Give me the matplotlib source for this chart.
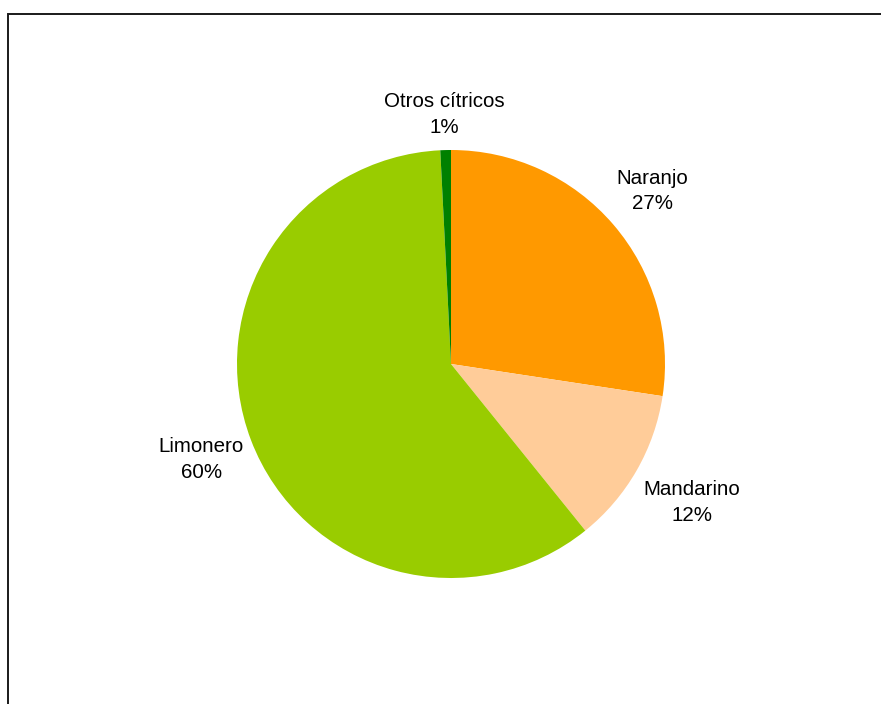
import numpy as np
import matplotlib.pyplot as plt
from matplotlib.patches import Rectangle

plt.rcParams['font.family'] = ['Liberation Sans', 'DejaVu Sans']

# datos del gráfico (sentido horario desde arriba)
categorias = ['Naranjo', 'Mandarino', 'Limonero', 'Otros cítricos']
valores = [27.4, 11.8, 60.0, 0.8]
etiquetas_pct = ['27%', '12%', '60%', '1%']
colores = ['#FF9900', '#FFCC99', '#99CC00', '#008000']
dist_etiqueta = [1.24, 1.30, 1.25, 1.165]

fig = plt.figure(figsize=(8.81, 7.04), dpi=100)

# marco exterior (solo se ve arriba y a la izquierda)
marco = Rectangle((8 / 881, -0.5), 1.5, 1.5 - 14 / 704,
                  transform=fig.transFigure, fill=False,
                  edgecolor='#1a1a1a', linewidth=1.4)
fig.patches.append(marco)

ax = fig.add_axes([237 / 881, 126 / 704, 428 / 881, 428 / 704])
wedges, _ = ax.pie(valores, colors=colores, startangle=90, counterclock=False,
                   radius=1.0, wedgeprops=dict(linewidth=0))
ax.set_xlim(-1, 1)
ax.set_ylim(-1, 1)
ax.set_aspect('equal')
ax.axis('off')

# etiquetas fuera de la tarta, centradas en el ángulo medio de cada porción
for w, cat, pct, d in zip(wedges, categorias, etiquetas_pct, dist_etiqueta):
    ang = np.deg2rad((w.theta1 + w.theta2) / 2)
    ax.text(d * np.cos(ang), d * np.sin(ang), f'{cat}\n{pct}',
            ha='center', va='center', fontsize=14.8, color='black',
            linespacing=1.45, clip_on=False)

plt.savefig('out.png', dpi=100)
